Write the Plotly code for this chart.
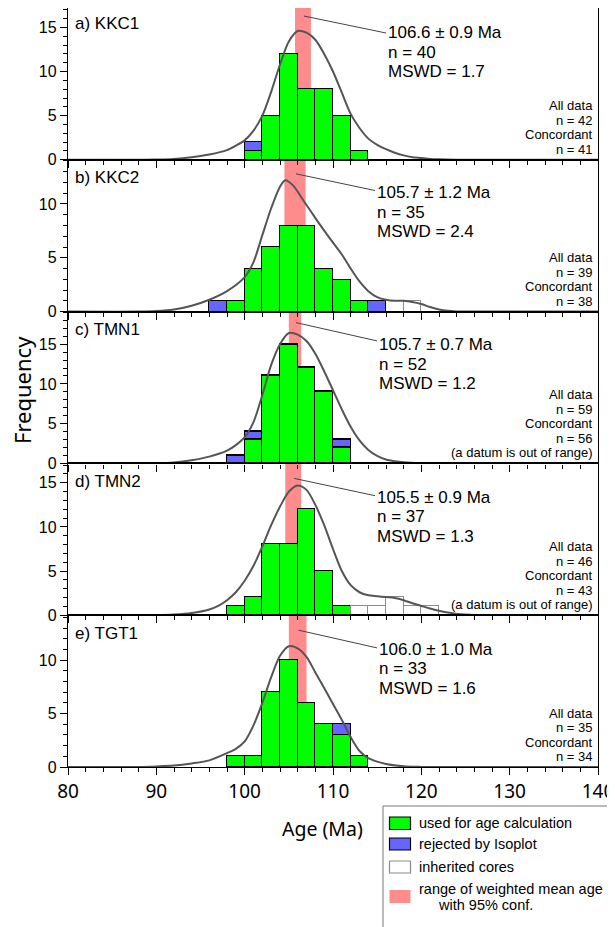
import plotly.graph_objects as go

# ------------------------------------------------------------------ data
bin_left = [96, 98, 100, 102, 104, 106, 108, 110, 112, 114, 116, 118, 120]
bin_width = 2
x_tick_vals = [80, 90, 100, 110, 120, 130, 140]

# a) KKC1
kkc1_used = [0, 0, 1, 5, 12, 8, 8, 5, 1, 0, 0, 0, 0]
kkc1_rej = [0, 0, 1, 0, 0, 0, 0, 0, 0, 0, 0, 0, 0]
kkc1_inh = [0, 0, 0, 0, 0, 0, 0, 0, 0, 0, 0, 0, 0]
kkc1_pdf_age = [80, 88, 90, 92, 94, 96, 98, 99, 100, 101, 102, 103, 104, 105, 106, 107, 108, 109, 110,
                111, 112, 113, 114, 115, 116, 117, 118, 119, 120, 121, 122, 124, 126, 140]
kkc1_pdf_freq = [0, 0, 0.02, 0.1, 0.3, 0.6, 1.1, 1.6, 2.2, 3.3, 5.0, 7.7, 10.8, 13.4, 14.6, 14.4, 13.6, 12.0, 10.0,
                 7.6, 5.2, 3.6, 2.4, 1.7, 1.2, 0.8, 0.5, 0.3, 0.2, 0.1, 0.05, 0.01, 0, 0]

# b) KKC2
kkc2_used = [0, 1, 4, 6, 8, 8, 4, 3, 1, 0, 0, 0, 0]
kkc2_rej = [1, 0, 0, 0, 0, 0, 0, 0, 0, 1, 0, 0, 0]
kkc2_inh = [0, 0, 0, 0, 0, 0, 0, 0, 0, 0, 0, 1, 0]
kkc2_pdf_age = [80, 88, 90, 92, 94, 96, 98, 100, 101, 102, 103, 104, 104.6, 105.5, 106.5, 107.5, 108.5, 110,
                111, 112, 113, 114, 115, 116, 117, 118, 119, 120, 121, 122, 123, 124, 126, 140]
kkc2_pdf_freq = [0, 0, 0.05, 0.2, 0.55, 1.1, 1.9, 3.2, 4.6, 7.1, 9.6, 11.6, 12.2, 11.7, 10.5, 9.3, 8.1, 6.4,
                 5.3, 4.0, 2.8, 1.9, 1.35, 1.1, 1.0, 1.0, 0.9, 0.7, 0.42, 0.2, 0.07, 0.02, 0, 0]

# c) TMN1
tmn1_used = [0, 0, 3, 11, 15, 12, 9, 2, 0, 0, 0, 0, 0]
tmn1_rej = [0, 1, 1, 0, 0, 0, 0, 1, 0, 0, 0, 0, 0]
tmn1_inh = [0, 0, 0, 0, 0, 0, 0, 0, 0, 0, 0, 0, 0]
tmn1_pdf_age = [80, 88, 90, 92, 94, 96, 98, 99, 100, 101, 102, 103, 104, 105, 106, 107, 108, 109, 110,
                111, 112, 113, 114, 115, 116, 117, 118, 120, 122, 140]
tmn1_pdf_freq = [0, 0, 0.02, 0.12, 0.4, 0.85, 1.6, 2.3, 3.3, 5.2, 8.6, 12.4, 15.0, 16.4, 16.2, 15.4, 13.8, 11.6, 9.2,
                 6.8, 4.6, 2.9, 1.7, 0.95, 0.5, 0.28, 0.15, 0.04, 0, 0]

# d) TMN2
tmn2_used = [0, 1, 2, 8, 8, 12, 5, 1, 0, 0, 0, 0, 0]
tmn2_rej = [0, 0, 0, 0, 0, 0, 0, 0, 0, 0, 0, 0, 0]
tmn2_inh = [0, 0, 0, 0, 0, 0, 0, 0, 1, 1, 2, 1, 1]
tmn2_pdf_age = [80, 88, 90, 92, 94, 96, 97, 98, 99, 100, 101, 102, 103, 104, 105, 106, 107, 108, 109, 110,
                111, 112, 113, 114, 115, 116, 117, 118, 119, 120, 121, 122, 123, 124, 125, 126, 128, 140]
tmn2_pdf_freq = [0, 0, 0.02, 0.08, 0.25, 0.65, 1.05, 1.7, 2.6, 3.9, 5.6, 7.8, 10.2, 12.3, 14.0, 14.7, 14.2, 12.5,
                 10.2, 7.5, 5.0, 3.4, 2.6, 2.25, 2.15, 2.05, 1.95, 1.7, 1.35, 1.05, 0.75, 0.5, 0.3, 0.15, 0.07,
                 0.03, 0, 0]

# e) TGT1
tgt1_used = [0, 1, 1, 7, 10, 6, 4, 3, 1, 0, 0, 0, 0]
tgt1_rej = [0, 0, 0, 0, 0, 0, 0, 1, 0, 0, 0, 0, 0]
tgt1_inh = [0, 0, 0, 0, 0, 0, 0, 0, 0, 0, 0, 0, 0]
tgt1_pdf_age = [80, 88, 90, 92, 94, 96, 98, 99, 100, 101, 102, 103, 104, 105, 106, 107, 108, 109, 110,
                111, 112, 113, 114, 115, 116, 118, 120, 122, 140]
tgt1_pdf_freq = [0, 0, 0.05, 0.13, 0.33, 0.62, 1.3, 1.7, 2.4, 3.9, 6.0, 8.4, 10.4, 11.3, 11.1, 10.3, 8.85, 7.4, 5.9,
                 4.4, 2.8, 1.5, 0.83, 0.5, 0.28, 0.06, 0.01, 0, 0]

sample_labels = ["a) KKC1", "b) KKC2", "c) TMN1", "d) TMN2", "e) TGT1"]
wm_age = [106.6, 105.7, 105.7, 105.5, 106.0]
wm_err = [0.9, 1.2, 0.7, 0.9, 1.0]
wm_n = [40, 35, 52, 37, 33]
wm_mswd = [1.7, 2.4, 1.2, 1.3, 1.6]
all_data_n = [42, 39, 59, 46, 35]
concordant_n = [41, 38, 56, 43, 34]
out_of_range_note = [False, False, True, True, False]

legend_labels = ["used for age calculation", "rejected by Isoplot", "inherited cores",
                 "range of weighted mean age", "with 95% conf."]

used_all = [kkc1_used, kkc2_used, tmn1_used, tmn2_used, tgt1_used]
rej_all = [kkc1_rej, kkc2_rej, tmn1_rej, tmn2_rej, tgt1_rej]
inh_all = [kkc1_inh, kkc2_inh, tmn1_inh, tmn2_inh, tgt1_inh]
pdf_age_all = [kkc1_pdf_age, kkc2_pdf_age, tmn1_pdf_age, tmn2_pdf_age, tgt1_pdf_age]
pdf_freq_all = [kkc1_pdf_freq, kkc2_pdf_freq, tmn1_pdf_freq, tmn2_pdf_freq, tgt1_pdf_freq]

# ------------------------------------------------------------------ style / layout
OFF = 8                      # page offset of the figure inside the browser window
W, H = 615 - OFF, 927 - OFF
ML, MR, MT, MB = 60, 17, 0, 160
PW, PH = W - ML - MR, H - MT - MB
NP = 5
PANEL_H = PH / NP
X_MIN, X_MAX = 80, 140
Y_MAX = [17.2, 14.1, 19.1, 17.2, 14.2]

GREEN = "#00FF00"
BLUE = "#6666FF"
RED = "#FF8C8C"
CURVE = "#555555"
INH_LINE = "#8C8C8C"
SANS = "Liberation Sans, Arial, sans-serif"
ROUND = "Noto Sans, sans-serif"

# layout positions (window pixels)
label_top = [16, 18, 18, 18, 18]
text_x_px = [386, 375, 377, 375, 377]
text_top = [25, 33, 33, 34, 34]
line_gap = 19.5
lead_top0 = [8, 14, 11, 15, 15]
lead_top1 = [25, 30.7, 29.3, 32.3, 32.7]
count_right_px = 595
count_bottom0 = 10.5
count_gap = 14.5


def paper_x(px):
    return (px - OFF - ML) / PW


def paper_y(py):
    return (H - MB - (py - OFF)) / PH


xdom = paper_x

fig = go.Figure()
shapes = []
annotations = []
centers = [b + bin_width / 2 for b in bin_left]

for i in range(NP):
    sfx = "" if i == 0 else str(i + 1)
    xr, yr = "x" + sfx, "y" + sfx
    for vals, fill, lc in [(used_all[i], GREEN, "black"), (rej_all[i], BLUE, "black"),
                           (inh_all[i], "white", INH_LINE)]:
        xs = [c for c, v in zip(centers, vals) if v > 0]
        ys = [v for v in vals if v > 0]
        if xs:
            fig.add_trace(go.Bar(x=xs, y=ys, width=bin_width,
                                 marker=dict(color=fill, line=dict(color=lc, width=1.2)),
                                 xaxis=xr, yaxis=yr, showlegend=False))
    fig.add_trace(go.Scatter(x=pdf_age_all[i], y=pdf_freq_all[i], mode="lines",
                             line=dict(color=CURVE, width=2, shape="spline", smoothing=0.8),
                             xaxis=xr, yaxis=yr, showlegend=False))

    # weighted-mean band
    shapes.append(dict(type="rect", xref=xr, yref=yr + " domain",
                       x0=wm_age[i] - wm_err[i], x1=wm_age[i] + wm_err[i], y0=0, y1=1,
                       fillcolor=RED, line=dict(width=0), layer="below"))
    # leader line
    shapes.append(dict(type="line", xref=xr + " domain", yref=yr + " domain",
                       x0=(wm_age[i] + 0.1 - X_MIN) / (X_MAX - X_MIN), y0=1 - lead_top0[i] / PANEL_H,
                       x1=xdom(text_x_px[i]), y1=1 - lead_top1[i] / PANEL_H,
                       line=dict(color="#444444", width=1)))

    # panel label
    annotations.append(dict(text=sample_labels[i], xref=xr + " domain", yref=yr + " domain",
                            x=xdom(73), y=1 - label_top[i] / PANEL_H, xanchor="left", yanchor="middle",
                            showarrow=False, font=dict(family=SANS, size=17, color="black")))
    # stats
    stat_lines = [f"{wm_age[i]:.1f} \u00b1 {wm_err[i]:.1f} Ma", f"n = {wm_n[i]}", f"MSWD = {wm_mswd[i]:.1f}"]
    for k, t in enumerate(stat_lines):
        annotations.append(dict(text=t, xref=xr + " domain", yref=yr + " domain",
                                x=xdom(text_x_px[i]), y=1 - (text_top[i] + k * line_gap) / PANEL_H,
                                xanchor="left", yanchor="middle", showarrow=False,
                                font=dict(family=SANS, size=17, color="black")))
    # counts
    cl = ["All data", f"n = {all_data_n[i]}", "Concordant", f"n = {concordant_n[i]}"]
    if out_of_range_note[i]:
        cl.append("(a datum is out of range)")
    for k, t in enumerate(reversed(cl)):
        annotations.append(dict(text=t, xref=xr + " domain", yref=yr + " domain",
                                x=xdom(count_right_px), y=(count_bottom0 + k * count_gap) / PANEL_H,
                                xanchor="right", yanchor="middle", showarrow=False,
                                font=dict(family=SANS, size=13, color="black")))

# axis titles
annotations.append(dict(text="Age (Ma)", xref="paper", yref="paper", x=paper_x(322), y=paper_y(828),
                        xanchor="center", yanchor="middle", showarrow=False,
                        font=dict(family=ROUND, size=19.5, color="black")))
annotations.append(dict(text="Frequency", xref="paper", yref="paper", x=paper_x(22), y=paper_y(390),
                        xanchor="center", yanchor="middle", showarrow=False, textangle=-90,
                        font=dict(family=ROUND, size=22, color="black")))

# legend (drawn manually)
shapes.append(dict(type="rect", xref="paper", yref="paper", x0=paper_x(383), x1=paper_x(610),
                   y0=paper_y(940), y1=paper_y(806), line=dict(color="#777777", width=1),
                   fillcolor="rgba(0,0,0,0)"))
sw = [(817, 829.5, GREEN, "black", 1.2), (838, 850, BLUE, "black", 1.2),
      (861, 873, "white", INH_LINE, 1.2), (890, 903, RED, RED, 0)]
for (ya, yb, fc, lc, lw) in sw:
    shapes.append(dict(type="rect", xref="paper", yref="paper", x0=paper_x(389.5), x1=paper_x(410.5),
                       y0=paper_y(yb), y1=paper_y(ya), fillcolor=fc,
                       line=dict(color=lc, width=lw)))
leg_pos = [(416.5, 822.5, "left"), (416.5, 844, "left"), (416.5, 867, "left"),
           (416.5, 888.5, "left"), (485, 905, "center")]
for t, (px, py, anc) in zip(legend_labels, leg_pos):
    annotations.append(dict(text=t, xref="paper", yref="paper", x=paper_x(px), y=paper_y(py),
                            xanchor=anc, yanchor="middle", showarrow=False,
                            font=dict(family=SANS, size=14.5, color="black")))

layout = dict(width=W, height=H, margin=dict(l=ML, r=MR, t=MT, b=MB, pad=0),
              plot_bgcolor="white", paper_bgcolor="white", barmode="stack", bargap=0,
              showlegend=False, shapes=shapes, annotations=annotations,
              font=dict(family=SANS, color="black"))

for i in range(NP):
    sfx = "" if i == 0 else str(i + 1)
    top = 1 - i / NP
    bot = 1 - (i + 1) / NP
    layout["xaxis" + sfx] = dict(
        domain=[0, 1], anchor="y" + sfx, range=[X_MIN, X_MAX], tickvals=x_tick_vals,
        ticks="outside", ticklen=7, tickwidth=1.3, tickcolor="black",
        minor=dict(dtick=2, tick0=80, ticks="outside", ticklen=4, tickwidth=1.2, tickcolor="black"),
        showline=True, linecolor="black", linewidth=1.3, mirror=True,
        showgrid=False, zeroline=False, showticklabels=(i == NP - 1),
        tickfont=dict(family=ROUND, size=19, color="black"))
    layout["yaxis" + sfx] = dict(
        domain=[bot, top], anchor="x" + sfx, range=[0, Y_MAX[i]], dtick=5, tick0=0,
        ticks="outside", ticklen=7, tickwidth=1.3, tickcolor="black",
        minor=dict(dtick=1, ticks="outside", ticklen=4, tickwidth=1.2, tickcolor="black"),
        showline=True, linecolor="black", linewidth=1.3, mirror=True,
        showgrid=False, zeroline=False,
        tickfont=dict(family=SANS, size=16, color="black"))

fig.update_layout(**layout)
fig.write_html("out.html")
